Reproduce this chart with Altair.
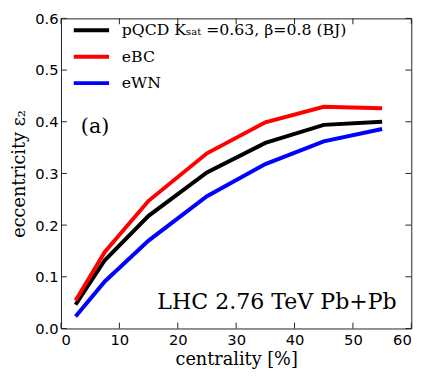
import altair as alt
import pandas as pd

centrality = [2.5, 7.5, 15, 25, 35, 45, 55]
pqcd = [0.046, 0.132, 0.218, 0.302, 0.359, 0.394, 0.400]
ebc = [0.054, 0.148, 0.247, 0.339, 0.399, 0.429, 0.426]
ewn = [0.023, 0.091, 0.170, 0.256, 0.318, 0.362, 0.386]
series_names = ["pQCD Kₛₐₜ =0.63, β=0.8 (BJ)", "eBC", "eWN"]
series_colors = ["#000000", "#ff0000", "#0000ff"]
x_ticks = [0, 10, 20, 30, 40, 50, 60]
y_ticks = [0.0, 0.1, 0.2, 0.3, 0.4, 0.5, 0.6]

rows = []
for name, vals in zip(series_names, [pqcd, ebc, ewn]):
    for c, v in zip(centrality, vals):
        rows.append({"series": name, "centrality": c, "eps": v})
df = pd.DataFrame(rows)

W, H = 357, 316
XMAX, YMAX = 60, 0.6
tx = 6 * XMAX / W
ty = 6 * YMAX / H
tick_rows = []
for v in x_ticks:
    tick_rows.append({"centrality": v, "centrality2": v, "eps": 0, "eps2": ty})
    tick_rows.append({"centrality": v, "centrality2": v, "eps": YMAX, "eps2": YMAX - ty})
for v in y_ticks:
    tick_rows.append({"centrality": 0, "centrality2": tx, "eps": v, "eps2": v})
    tick_rows.append({"centrality": XMAX, "centrality2": XMAX - tx, "eps": v, "eps2": v})
ticks_df = pd.DataFrame(tick_rows)

xs = alt.Scale(domain=[0, XMAX], nice=False, zero=False)
ys = alt.Scale(domain=[0, YMAX], nice=False)
xaxis = alt.Axis(values=x_ticks, title="centrality [%]", format="d")
yaxis = alt.Axis(values=y_ticks, title="eccentricity ε₂", format=".1f")

lines = alt.Chart(df).mark_line(strokeWidth=4, strokeCap="butt").encode(
    x=alt.X("centrality:Q", scale=xs, axis=xaxis),
    y=alt.Y("eps:Q", scale=ys, axis=yaxis),
    color=alt.Color(
        "series:N",
        scale=alt.Scale(domain=series_names, range=series_colors),
        legend=alt.Legend(
            title=None, orient="none", legendX=20, legendY=1,
            symbolType="M-2,0H2", symbolSize=324, symbolStrokeWidth=4,
            labelFont="DejaVu Serif", labelFontSize=16, labelColor="black",
            labelOffset=20, rowPadding=8, padding=0, labelLimit=400,
        ),
    ),
)

ticks = alt.Chart(ticks_df).mark_rule(color="#222", strokeWidth=1).encode(
    x=alt.X("centrality:Q", scale=xs, axis=xaxis),
    x2="centrality2:Q",
    y=alt.Y("eps:Q", scale=ys, axis=yaxis),
    y2="eps2:Q",
)

ann_df = pd.DataFrame([
    {"centrality": 3.4, "eps": 0.389, "label": "(a)"},
])
ann = alt.Chart(ann_df).mark_text(
    font="DejaVu Serif", fontSize=21, align="left", baseline="middle", color="black"
).encode(
    x=alt.X("centrality:Q", scale=xs, axis=xaxis),
    y=alt.Y("eps:Q", scale=ys, axis=yaxis),
    text="label:N",
)

lhc_df = pd.DataFrame([
    {"centrality": 57.5, "eps": 0.038, "label": "LHC 2.76 TeV Pb+Pb"},
])
lhc = alt.Chart(lhc_df).mark_text(
    font="DejaVu Serif", fontSize=22.5, align="right", baseline="alphabetic", color="black"
).encode(
    x=alt.X("centrality:Q", scale=xs, axis=xaxis),
    y=alt.Y("eps:Q", scale=ys, axis=yaxis),
    text="label:N",
)

chart = alt.layer(lines, ticks, ann, lhc).properties(
    width=W, height=H,
    autosize=alt.AutoSizeParams(type="none"),
    padding={"left": 54, "top": 7, "right": 17, "bottom": 54},
).configure_view(
    stroke="#222", strokeWidth=1
).configure_axis(
    grid=False, ticks=False, domain=False,
    labelFont="DejaVu Sans", labelFontSize=15, labelColor="black",
    titleFont="DejaVu Serif", titleFontSize=18, titleFontWeight="normal", titleColor="black",
).configure_axisX(
    labelPadding=4, titlePadding=4,
).configure_axisY(
    labelPadding=3, titlePadding=6,
)

chart.save("out.html", embed_options={"renderer": "svg", "actions": False})
